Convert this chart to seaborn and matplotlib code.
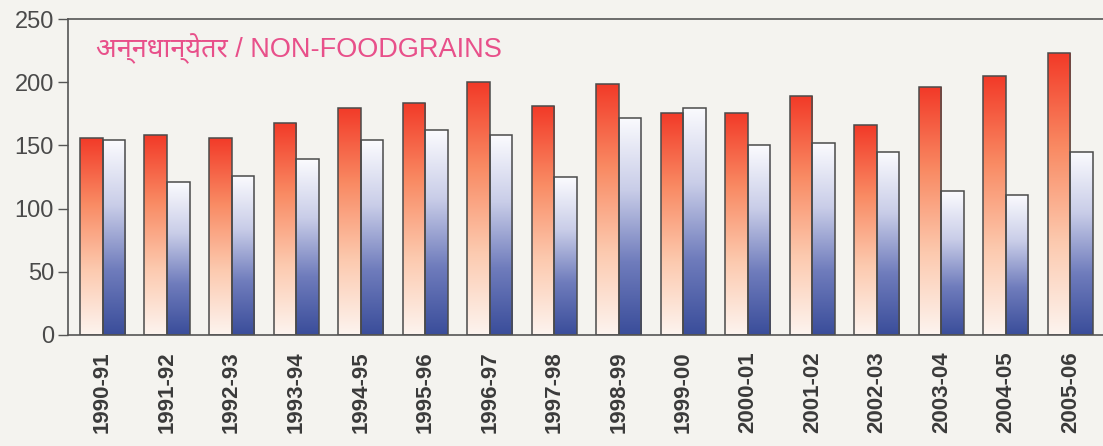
import numpy as np
import pandas as pd
import matplotlib
matplotlib.use('Agg')
import matplotlib.pyplot as plt
from matplotlib.colors import LinearSegmentedColormap
import seaborn as sns

years = ['1990-91', '1991-92', '1992-93', '1993-94', '1994-95', '1995-96',
         '1996-97', '1997-98', '1998-99', '1999-00', '2000-01', '2001-02',
         '2002-03', '2003-04', '2004-05', '2005-06']
series_a = [156, 158, 156, 168, 180, 184, 200, 181, 199, 176, 176, 189, 166, 196, 205, 223]
series_b = [154, 121, 126, 139, 154, 162, 158, 125, 172, 180, 150, 152, 145, 114, 111, 145]
title_text = 'अन्नधान्येतर / NON-FOODGRAINS'

df = pd.DataFrame({
    'year': years * 2,
    'value': series_a + series_b,
    'series': ['a'] * len(years) + ['b'] * len(years),
})

bg = '#f4f3ef'
sns.set_style('white')
plt.rcParams['font.family'] = ['Liberation Sans', 'DejaVu Sans']

fig = plt.figure(figsize=(11.03, 4.46), dpi=100, facecolor=bg)
ax = fig.add_axes([68 / 1103, 0.249, 1035 / 1103, 0.708])
ax.set_facecolor(bg)

sns.barplot(data=df, x='year', y='value', hue='series', ax=ax,
            palette=['#f04030', '#3d4f9e'], width=0.7, gap=0,
            edgecolor='#4a4a4a', linewidth=1.1, legend=False)

# gradient fills clipped to each bar
red_cmap = LinearSegmentedColormap.from_list('r', ['#fdf4ef', '#fcc9ae', '#f98a63', '#f23a28'])
blue_cmap = LinearSegmentedColormap.from_list('b', ['#3a4d9a', '#6f7cbc', '#c9cde8', '#fbfbfe'])
grad = np.linspace(0, 1, 256).reshape(-1, 1)
n = len(years)
for i, bar in enumerate(ax.patches[:2 * n]):
    cmap = red_cmap if i < n else blue_cmap
    x0, y0 = bar.get_x(), bar.get_y()
    w, h = bar.get_width(), bar.get_height()
    im = ax.imshow(grad, cmap=cmap, aspect='auto', origin='lower',
                   extent=[x0, x0 + w, y0, y0 + h], zorder=bar.get_zorder())
    im.set_clip_path(bar)
    bar.set_facecolor('none')
    bar.set_zorder(bar.get_zorder() + 0.5)

ax.set_xlim(-0.535, 15.505)
ax.set_ylim(0, 250)
ax.set_yticks([0, 50, 100, 150, 200, 250])
ax.set_xlabel('')
ax.set_ylabel('')
ax.tick_params(axis='y', direction='out', length=7, width=1, color='#555555',
               labelsize=17, labelcolor='#4a4a4a', pad=3, left=True)
ax.tick_params(axis='x', length=0, labelsize=16, labelcolor='#3a3a3a', pad=12)
for lbl in ax.get_xticklabels():
    lbl.set_rotation(90)
    lbl.set_fontweight('bold')

for s in ['left', 'top', 'bottom']:
    ax.spines[s].set_color('#555555')
    ax.spines[s].set_linewidth(1.2)
ax.spines['right'].set_visible(False)

ax.text(-0.1, 227, title_text, color='#e8508a', fontsize=19.5,
        family=['Liberation Sans', 'Noto Sans', 'DejaVu Sans'], va='center', ha='left')

fig.savefig('out.png', dpi=100, facecolor=bg)
